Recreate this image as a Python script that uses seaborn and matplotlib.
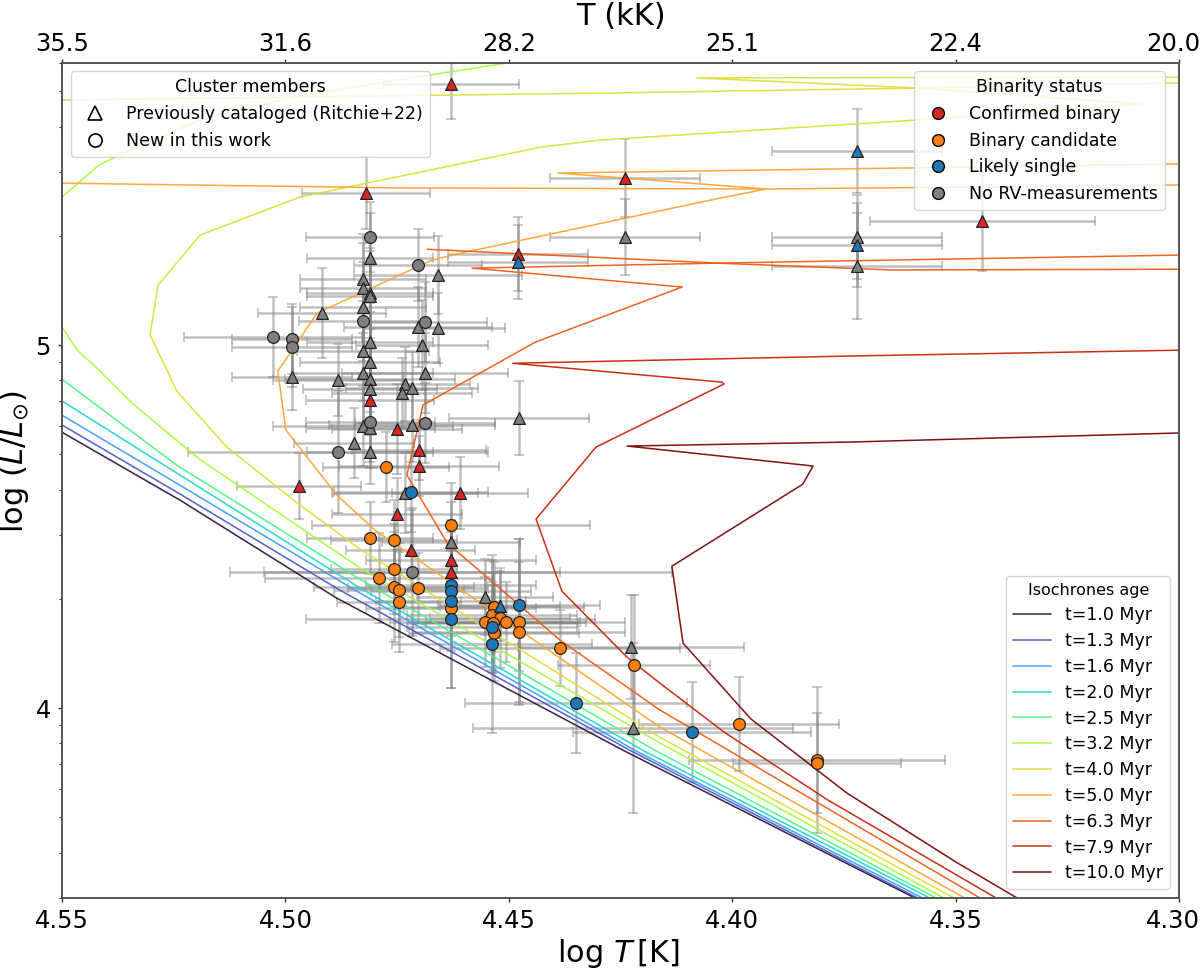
import numpy as np
import matplotlib
matplotlib.use('Agg')
import matplotlib.pyplot as plt
import matplotlib.ticker as ticker
from matplotlib.lines import Line2D
from matplotlib.transforms import ScaledTranslation
import seaborn as sns

sns.set_theme(style='white')
plt.rcParams['font.family'] = ['DejaVu Sans']
plt.rcParams['axes.edgecolor'] = '#555555'
plt.rcParams['text.color'] = 'black'
plt.rcParams['axes.labelcolor'] = 'black'
plt.rcParams['xtick.color'] = 'black'
plt.rcParams['ytick.color'] = 'black'
plt.rcParams['mathtext.default'] = 'it'

# isochrones, one pair of lists per age
t01_logT = [4.55, 4.5236, 4.4885, 4.4244, 4.3586]
t01_logL = [4.760, 4.573, 4.303, 3.884, 3.474]
t013_logT = [4.55, 4.5236, 4.4878, 4.4229, 4.3580]
t013_logL = [4.780, 4.590, 4.325, 3.884, 3.474]
t016_logT = [4.55, 4.5225, 4.4833, 4.4218, 4.3569]
t016_logL = [4.807, 4.606, 4.317, 3.884, 3.474]
t02_logT = [4.55, 4.5236, 4.4833, 4.4200, 4.3553]
t02_logL = [4.846, 4.642, 4.331, 3.884, 3.474]
t025_logT = [4.55, 4.5243, 4.4833, 4.4173, 4.3539]
t025_logL = [4.906, 4.669, 4.355, 3.884, 3.474]
t032_logT = [4.3522, 4.4162, 4.4833, 4.5196, 4.5343, 4.5422, 4.5466, 4.55, 4.5538, 4.5538, 4.55,
             4.5417, 4.5363, 4.5191, 4.4983, 4.4773, 4.4676, 4.4430]
t032_logL = [3.474, 3.904, 4.386, 4.689, 4.840, 4.937, 4.986, 5.050, 5.207, 5.331, 5.408,
             5.496, 5.529, 5.620, 5.683, 5.725, 5.744, 5.791]
t04_logT = [4.3499, 4.4162, 4.4833, 4.4967, 4.5131, 4.5243, 4.5265, 4.5303, 4.5285, 4.5191, 4.4967,
            4.4430, 4.4296, 4.3586, 4.3430, 4.3081, 4.3586, 4.4079, 4.30]
t04_logL = [3.474, 3.920, 4.438, 4.559, 4.719, 4.873, 4.931, 5.028, 5.165, 5.303, 5.408,
            5.545, 5.565, 5.620, 5.634, 5.664, 5.708, 5.736, 5.738]
t04_flat_logT = [4.55, 4.4296, 4.3586, 4.30]
t04_flat_logL = [5.675, 5.694, 5.708, 5.722]
t05_logT = [4.3475, 4.4162, 4.4799, 4.4885, 4.4999, 4.5017, 4.4929, 4.4672, 4.4609, 4.4027, 4.3924,
            4.4240, 4.4390, 4.30]
t05_logL = [3.474, 3.948, 4.490, 4.587, 4.766, 4.928, 5.088, 5.234, 5.253, 5.405, 5.430,
            5.460, 5.474, 5.499]
t05_flat_logT = [4.55, 4.4744, 4.3924, 4.30]
t05_flat_logL = [5.446, 5.433, 5.430, 5.441]
t063_logT = [4.3441, 4.4162, 4.4385, 4.4638, 4.4728, 4.4692, 4.4441, 4.4112, 4.4582, 4.4027, 4.30]
t063_logL = [3.474, 3.995, 4.187, 4.455, 4.642, 4.835, 5.008, 5.160, 5.212, 5.226, 5.248]
t063_flat_logT = [4.4683, 4.4036, 4.3642, 4.30]
t063_flat_logL = [5.264, 5.226, 5.207, 5.209]
t079_logT = [4.3405, 4.3786, 4.4018, 4.4162, 4.4235, 4.4381, 4.4439, 4.4305, 4.4018, 4.4023, 4.4491,
             4.3736, 4.30]
t079_logL = [3.474, 3.747, 3.934, 4.069, 4.140, 4.322, 4.521, 4.719, 4.893, 4.898, 4.950,
             4.970, 4.986]
t10_logT = [4.3358, 4.3499, 4.3743, 4.3958, 4.4110, 4.4135, 4.3842, 4.3819, 4.4235, 4.3736, 4.30]
t10_logL = [3.474, 3.576, 3.766, 3.970, 4.179, 4.391, 4.617, 4.667, 4.722, 4.733, 4.758]

ages = [1.0, 1.3, 1.6, 2.0, 2.5, 3.2, 4.0, 5.0, 6.3, 7.9, 10.0]
iso_main = [(t01_logT, t01_logL), (t013_logT, t013_logL), (t016_logT, t016_logL), (t02_logT, t02_logL),
            (t025_logT, t025_logL), (t032_logT, t032_logL), (t04_logT, t04_logL), (t05_logT, t05_logL),
            (t063_logT, t063_logL), (t079_logT, t079_logL), (t10_logT, t10_logL)]
iso_extra = {4.0: (t04_flat_logT, t04_flat_logL), 5.0: (t05_flat_logT, t05_flat_logL),
             6.3: (t063_flat_logT, t063_flat_logL)}

# stars, triangles = Ritchie+22, circles = new
red_tri_logT = [4.463, 4.482, 4.424, 4.344, 4.448, 4.481, 4.475, 4.470, 4.470, 4.497, 4.461, 4.475, 4.472, 4.463, 4.463]
red_tri_logL = [5.719, 5.419, 5.460, 5.342, 5.251, 4.848, 4.769, 4.711, 4.667, 4.612, 4.592, 4.534, 4.435, 4.408, 4.375]
red_tri_xerr = [.0152, .0143, .0168, .0251, .0157, .0143, .0145, .015, .0179, .0139, .0152, .0145, .0145, .019, .0495]
red_tri_yerr = [.096, .099, .107, .138, .102, .096, .124, .083, .083, .091, .099, .099, .11, .11, .11]

blue_tri_logT = [4.372, 4.372, 4.448, 4.452]
blue_tri_logL = [5.534, 5.275, 5.229, 4.281]
blue_tri_xerr = [.019, .019, .0157, .0134]
blue_tri_yerr = [.116, .116, .102, .096]

grey_tri_logT = [4.424, 4.372, 4.372, 4.481, 4.4826, 4.4826, 4.481, 4.481, 4.4826, 4.4918, 4.4658, 4.4703, 4.4658,
                 4.481, 4.4694, 4.4826, 4.481, 4.4826, 4.481, 4.4985, 4.4882, 4.4688, 4.4732, 4.4717, 4.4739, 4.481,
                 4.4477, 4.4717, 4.4826, 4.481, 4.4846, 4.481, 4.4732, 4.463, 4.4553, 4.4227, 4.4222]
grey_tri_logL = [5.298, 5.298, 5.218, 5.240, 5.182, 5.157, 5.143, 5.135, 5.105, 5.088, 5.193, 5.050, 5.047,
                 5.008, 5.000, 4.983, 4.953, 4.923, 4.906, 4.912, 4.904, 4.923, 4.893, 4.882, 4.868, 4.879,
                 4.799, 4.780, 4.777, 4.771, 4.730, 4.705, 4.592, 4.457, 4.306, 4.168, 3.945]
grey_tri_xerr = [.0168, .019, .019, .0141, .0141, .0141, .0141, .0141, .0141, .0143, .0188, .0166, .015,
                 .0141, .0148, .0148, .0157, .0157, .019, .0134, .0145, .0186, .0145, .0148, .0157, .015,
                 .0157, .0186, .0201, .0145, .0134, .0141, .0163, .0154, .0152, .0253, .0358]
grey_tri_yerr = [.105, .116, .146, .124, .124, .124, .124, .124, .124, .124, .107, .11, .096,
                 .124, .124, .138, .138, .138, .138, .091, .099, .11, .102, .099, .096, .11,
                 .102, .102, .11, .11, .096, .088, .11, .11, .105, .143, .234]

grey_circ_logT = [4.481, 4.4703, 4.4826, 4.4688, 4.5028, 4.4985, 4.4985, 4.4688, 4.481, 4.4882, 4.4717]
grey_circ_logL = [5.298, 5.220, 5.066, 5.063, 5.022, 5.017, 4.994, 4.785, 4.788, 4.705, 4.375]
grey_circ_xerr = [.0143, .0143, .0143, .0139, .0199, .0134, .0134, .0157, .0145, .0336, .0331]
grey_circ_yerr = [.096, .099, .11, .11, .11, .096, .11, .11, .11, .168, .176]

orange_logT = [4.4775, 4.463, 4.481, 4.4757, 4.4757, 4.4791, 4.4757, 4.4746, 4.4703, 4.4746, 4.463, 4.4533, 4.4538,
               4.452, 4.4506, 4.4553, 4.4535, 4.4533, 4.4477, 4.4477, 4.4385, 4.422, 4.3985, 4.381, 4.381]
orange_logL = [4.664, 4.504, 4.468, 4.463, 4.383, 4.358, 4.333, 4.325, 4.331, 4.292, 4.276, 4.278, 4.256,
               4.248, 4.237, 4.237, 4.234, 4.207, 4.237, 4.209, 4.165, 4.118, 3.956, 3.857, 3.849]
orange_xerr = [.0141, .0311, .0141, .0141, .0141, .0255, .0179, .0145, .0157, .0139, .019, .0201, .019,
               .0157, .0179, .0213, .019, .019, .0237, .0237, .0269, .017, .0224, .0286, .0188]
orange_yerr = [.096, .116, .099, .11, .124, .124, .152, .129, .096, .138, .22, .124, .152,
               .138, .11, .124, .138, .132, .229, .193, .105, .193, .129, .201, .138]

blue_circ_logT = [4.4719, 4.463, 4.463, 4.463, 4.463, 4.4477, 4.4538, 4.4538, 4.435, 4.409]
blue_circ_logL = [4.595, 4.339, 4.322, 4.295, 4.245, 4.284, 4.223, 4.176, 4.014, 3.934]
blue_circ_xerr = [.0172, .019, .0179, .0168, .0324, .0181, .019, .0224, .0248, .0266]
blue_circ_yerr = [.11, .11, .124, .138, .19, .182, .124, .245, .138, .138]

c_red, c_orange, c_blue, c_grey = 'tab:red', 'tab:orange', 'tab:blue', 'tab:gray'
star_groups = [
    (grey_tri_logT, grey_tri_logL, grey_tri_xerr, grey_tri_yerr, c_grey, '^'),
    (grey_circ_logT, grey_circ_logL, grey_circ_xerr, grey_circ_yerr, c_grey, 'o'),
    (orange_logT, orange_logL, orange_xerr, orange_yerr, c_orange, 'o'),
    (red_tri_logT, red_tri_logL, red_tri_xerr, red_tri_yerr, c_red, '^'),
    (blue_circ_logT, blue_circ_logL, blue_circ_xerr, blue_circ_yerr, c_blue, 'o'),
    (blue_tri_logT, blue_tri_logL, blue_tri_xerr, blue_tri_yerr, c_blue, '^'),
]

xticks = [4.55, 4.50, 4.45, 4.40, 4.35, 4.30]
top_labels = ['35.5', '31.6', '28.2', '25.1', '22.4', '20.0']

fig = plt.figure(figsize=(12, 9.69), dpi=100)
ax = fig.add_axes([62 / 1200, 1 - 898 / 969, (1179 - 62) / 1200, (898 - 62.6) / 969])

for x, y, xe, ye, _, _ in star_groups:
    ax.errorbar(x, y, xerr=xe, yerr=ye, fmt='none', ecolor='gray', alpha=0.5,
                elinewidth=1.8, capsize=3.5, capthick=1.2, zorder=1)

turbo = sns.color_palette('turbo', as_cmap=True)
iso_colors = [turbo(v) for v in np.linspace(0, 1, len(ages))]
for age, (x, y), col in zip(ages, iso_main, iso_colors):
    sns.lineplot(x=x, y=y, sort=False, estimator=None, color=col, lw=1.1, alpha=0.95, ax=ax, zorder=2)
    if age in iso_extra:
        ex, ey = iso_extra[age]
        sns.lineplot(x=ex, y=ey, sort=False, estimator=None, color=col, lw=1.1, alpha=0.95, ax=ax, zorder=2)

for i, (x, y, _, _, col, mark) in enumerate(star_groups):
    sns.scatterplot(x=x, y=y, color=col, marker=mark, s=72,
                    edgecolor='#222222', linewidth=0.9, ax=ax, zorder=3 + i)

ax.set_xlim(4.55, 4.30)
ax.set_ylim(np.log10(3e3), np.log10(6e5))
ax.set_xticks(xticks)
ax.xaxis.set_major_formatter(ticker.FormatStrFormatter('%.2f'))
ax.set_yticks([4, 5])
ax.yaxis.set_major_formatter(ticker.FormatStrFormatter('%d'))
minor_y = [np.log10(m * 10 ** e) for e in (3, 4, 5) for m in range(2, 10) if 3e3 <= m * 10 ** e <= 6e5]
ax.yaxis.set_minor_locator(ticker.FixedLocator(minor_y))
ax.tick_params(axis='both', which='major', labelsize=17.5, left=True, bottom=True, length=3, width=1, color='#333333', pad=5)
ax.tick_params(axis='y', which='minor', left=True, length=2.5, width=0.8, color='#333333')
ax.set_xlabel(r'log $T\,$[K]', fontsize=22)
ax.xaxis.set_label_coords(0.4985, -0.0465)
ax.set_ylabel(r'log ($L/L_{\odot}$)', fontsize=22)
ax.yaxis.set_label_coords(-0.0278, 0.522)

ax_top = ax.twiny()
ax_top.set_xlim(ax.get_xlim())
ax_top.set_xticks(xticks)
ax_top.set_xticklabels(top_labels)
ax_top.tick_params(axis='x', labelsize=17.5, top=True, length=3, width=1, color='#333333', pad=2)
ax_top.set_xlabel('T (kK)', fontsize=22, labelpad=5)

# the last tick labels would run off the canvas
shift = ScaledTranslation(-6 / 100, 0, fig.dpi_scale_trans)
for lab in (ax.get_xticklabels()[-1], ax_top.get_xticklabels()[-1]):
    lab.set_transform(lab.get_transform() + shift)

# legends
member_handles = [
    Line2D([], [], ls='', marker='^', mfc='white', mec='black', mew=1.2, ms=10.5, label='Previously cataloged (Ritchie+22)'),
    Line2D([], [], ls='', marker='o', mfc='white', mec='black', mew=1.2, ms=9.5, label='New in this work'),
]
status_handles = [
    Line2D([], [], ls='', marker='o', mfc=col, mec='black', mew=1, ms=8.5, label=lab)
    for col, lab in [(c_red, 'Confirmed binary'), (c_orange, 'Binary candidate'),
                     (c_blue, 'Likely single'), (c_grey, 'No RV-measurements')]
]
iso_handles = [Line2D([], [], color=col, lw=1.3, alpha=0.8, label=f't={age} Myr') for age, col in zip(ages, iso_colors)]

leg1 = ax_top.legend(handles=member_handles, title='Cluster members', loc='upper left', fontsize=12.5, title_fontsize=12.5)
leg2 = ax_top.legend(handles=status_handles, title='Binarity status', loc='upper right', fontsize=12.5, title_fontsize=12.5,
                     bbox_to_anchor=(0.9875, 0.9895), borderaxespad=0)
leg3 = ax_top.legend(handles=iso_handles, title='Isochrones age', loc='lower right', fontsize=12.5, title_fontsize=11.5,
                     labelspacing=0.45, handlelength=2.2)
ax_top.add_artist(leg1)
ax_top.add_artist(leg2)

fig.savefig('out.png', dpi=100)
